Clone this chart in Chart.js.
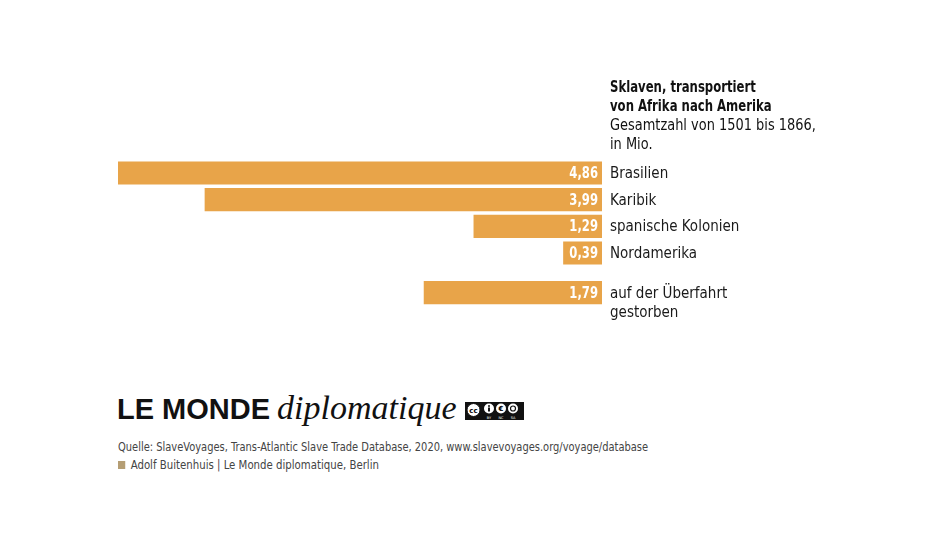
<!DOCTYPE html>
<html><head><meta charset="utf-8">
<script src="https://cdn.jsdelivr.net/npm/chart.js@4/dist/chart.umd.min.js"></script>
<style>
html,body{margin:0;padding:0;background:#fff;width:936px;height:538px;overflow:hidden;}
body{position:relative;font-family:"DejaVu Sans Condensed","DejaVu Sans",sans-serif;color:#1a1a1a;}
#c1{position:absolute;left:0;top:0;}
#c2{position:absolute;left:0;top:270px;}
.title{position:absolute;left:610px;top:78px;font-size:15px;line-height:19px;color:#111;white-space:nowrap;}
.title div{transform-origin:0 0;}
.title .b{font-weight:bold;transform:scaleX(0.865);}
.title .r{transform:scaleX(0.96);}
.logo{position:absolute;left:117px;top:389px;white-space:nowrap;}
.lm{font-family:"Liberation Sans","DejaVu Sans",sans-serif;font-weight:900;font-size:29px;color:#111;}
.dp{font-family:"Liberation Serif","DejaVu Serif",serif;font-style:italic;font-size:34px;color:#111;margin-left:7px;}
.cc{position:absolute;left:465px;top:402px;}
.src,.auth{position:absolute;left:118px;font-size:12.5px;color:#444;white-space:nowrap;transform-origin:0 0;}
.src{top:439px;transform:scaleX(0.88);}
.auth{top:457px;transform:scaleX(0.905);}
.sq{display:inline-block;width:8px;height:8px;background:#b59e74;margin-right:6px;vertical-align:0px;}
</style></head>
<body>
<canvas id="c1" width="936" height="270" style="width:936px;height:270px"></canvas>
<canvas id="c2" width="936" height="60" style="width:936px;height:60px"></canvas>
<div class="title"><div class="b">Sklaven, transportiert</div><div class="b">von Afrika nach Amerika</div><div class="r">Gesamtzahl von 1501 bis 1866,</div><div class="r">in Mio.</div></div>
<div class="logo"><span class="lm">LE MONDE</span><span class="dp">diplomatique</span></div>
<svg class="cc" width="59" height="18" viewBox="0 0 59 18">
<rect x="0" y="0" width="59" height="18" fill="#111"/>
<circle cx="8.5" cy="8" r="6.5" fill="#fff" stroke="#111"/>
<text x="8.5" y="10.5" font-size="7" font-weight="bold" text-anchor="middle" font-family="DejaVu Sans">cc</text>
<circle cx="24" cy="6.5" r="5" fill="#fff"/>
<circle cx="24" cy="4" r="1" fill="#111"/><rect x="23" y="5.5" width="2" height="4" fill="#111"/>
<circle cx="36" cy="6.5" r="5" fill="#fff"/>
<text x="36" y="9" font-size="7" font-weight="bold" text-anchor="middle" font-family="DejaVu Sans">€</text>
<circle cx="48" cy="6.5" r="5" fill="#fff"/>
<circle cx="48" cy="6.5" r="2.5" fill="none" stroke="#111" stroke-width="1.2"/>
<text x="24" y="16.5" font-size="3.5" fill="#fff" text-anchor="middle" font-family="DejaVu Sans">BY</text>
<text x="36" y="16.5" font-size="3.5" fill="#fff" text-anchor="middle" font-family="DejaVu Sans">NC</text>
<text x="48" y="16.5" font-size="3.5" fill="#fff" text-anchor="middle" font-family="DejaVu Sans">SA</text>
</svg>
<div class="src">Quelle: SlaveVoyages, Trans-Atlantic Slave Trade Database, 2020, www.slavevoyages.org/voyage/database</div>
<div class="auth"><span class="sq"></span>Adolf Buitenhuis | Le Monde diplomatique, Berlin</div>
<script>
const regions = [["Brasilien"], ["Karibik"], ["spanische Kolonien"], ["Nordamerika"]];
const regionValues = [4.86, 3.99, 1.29, 0.39];
const diedLabels = [["auf der Überfahrt", "gestorben"]];
const diedValues = [1.79];
const scaleMax = Math.max(...regionValues, ...diedValues);

const BAR = "#e8a449";
const FONT = '"DejaVu Sans Condensed","DejaVu Sans",sans-serif';

function narrowText(ctx, text, x, y, sx, align) {
  const w = ctx.measureText(text).width * sx;
  const left = align === "right" ? x - w : x;
  ctx.save();
  ctx.translate(left, y);
  ctx.scale(sx, 1);
  ctx.textAlign = "left";
  ctx.fillText(text, 0, 0);
  ctx.restore();
}

const labelPlugin = {
  id: "barLabels",
  afterDatasetsDraw(chart) {
    const ctx = chart.ctx;
    const meta = chart.getDatasetMeta(0);
    const ds = chart.data.datasets[0];
    ctx.save();
    ctx.textBaseline = "middle";
    meta.data.forEach((bar, i) => {
      const v = ds.data[i];
      const right = Math.max(bar.x, bar.base);
      ctx.fillStyle = "#fff";
      ctx.font = "bold 15px " + FONT;
      narrowText(ctx, v.toFixed(2).replace(".", ","), right - 4, bar.y + 1, 0.86, "right");
      ctx.fillStyle = "#1a1a1a";
      ctx.font = "15px " + FONT;
      const lines = chart.data.labels[i];
      lines.forEach((ln, k) => narrowText(ctx, ln, right + 8, bar.y + 1 + k * 19, 1, "left"));
    });
    ctx.restore();
  }
};

function makeChart(id, labels, values, padTop, padBottom) {
  return new Chart(document.getElementById(id), {
    type: "bar",
    data: { labels: labels, datasets: [{ data: values, backgroundColor: BAR, borderWidth: 0,
      categoryPercentage: 1, barPercentage: 0.87 }] },
    options: {
      indexAxis: "y",
      responsive: false,
      animation: false,
      layout: { padding: { left: 118, right: 334, top: padTop, bottom: padBottom } },
      plugins: { legend: { display: false }, tooltip: { enabled: false } },
      scales: {
        x: { reverse: true, min: 0, max: scaleMax, display: false },
        y: { display: false }
      }
    },
    plugins: [labelPlugin]
  });
}
makeChart("c1", regions, regionValues, 159.7, 270 - 266.3);
makeChart("c2", diedLabels, diedValues, 9.3, 60 - 36);
</script>
</body></html>
